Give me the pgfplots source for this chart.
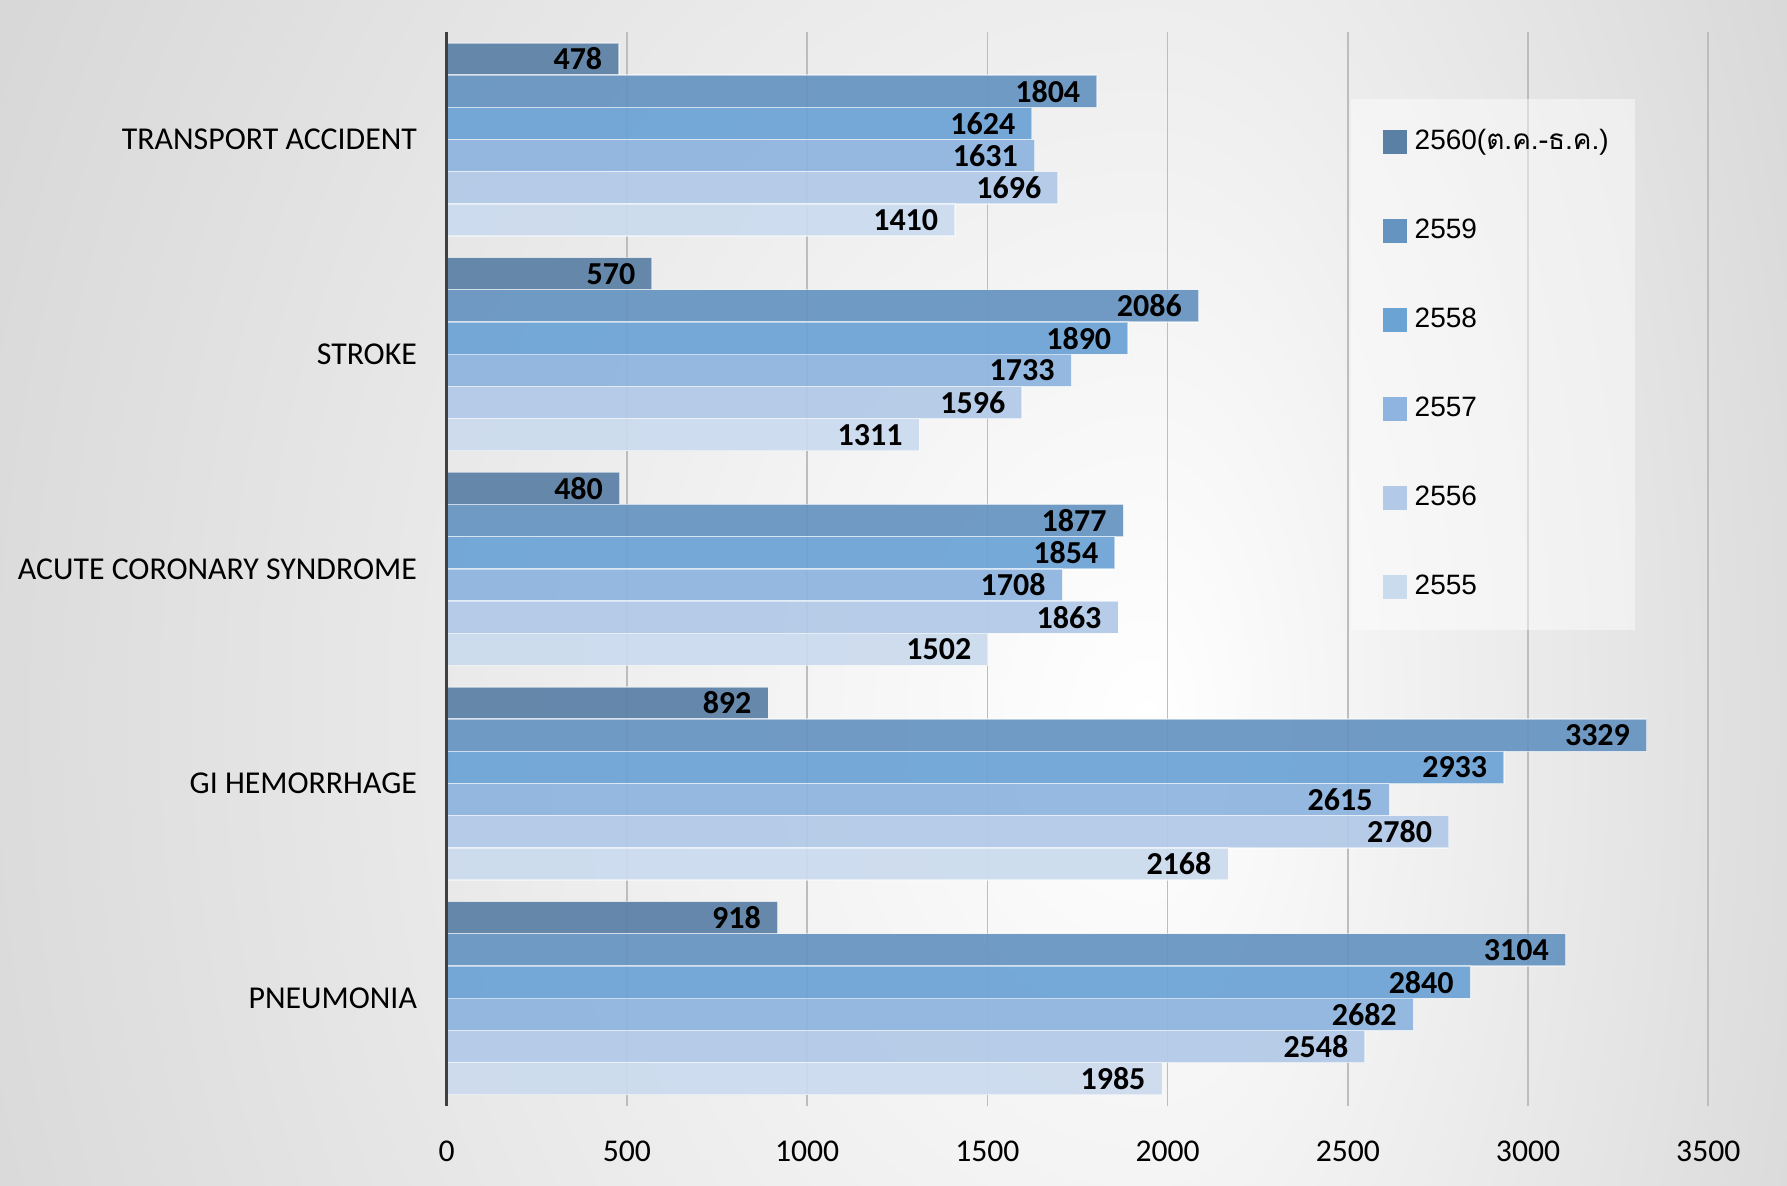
\documentclass[border=0pt]{standalone}
\usepackage{pgfplots}
\pgfplotsset{compat=1.18}
\usepackage{fontspec}
\setmainfont{Carlito}
\newfontfamily\legfont{Liberation Sans}
\newfontfamily\thaifont[Script=Thai]{Loma}
\definecolor{cA}{HTML}{5B80A6}
\definecolor{cB}{HTML}{6694C1}
\definecolor{cC}{HTML}{6CA3D5}
\definecolor{cD}{HTML}{8EB4DF}
\definecolor{cE}{HTML}{B2C9E7}
\definecolor{cF}{HTML}{CBDBEE}
\definecolor{axgray}{HTML}{404040}
\definecolor{gridgray}{HTML}{BDBDBD}
\definecolor{bgout}{gray}{0.745}
\begin{document}
\begin{tikzpicture}
\begin{scope}
\clip (0,0) rectangle (345pt,355.8pt);
\shade[inner color=white, outer color=bgout] (345pt,139.8pt) ellipse (633.8pt and 793.4pt);
\end{scope}
\begin{scope}
\clip (345pt,0) rectangle (536.1pt,355.8pt);
\shade[inner color=white, outer color=bgout] (345pt,139.8pt) ellipse (365.3pt and 793.4pt);
\end{scope}
\begin{axis}[
  at={(134pt,24.15pt)}, anchor=south west,
  scale only axis, width=378.5pt, height=322pt,
  xmin=0, xmax=3500, ymin=-0.5, ymax=4.5,
  y dir=reverse,
  xbar, bar width=0.15,
  axis lines*=left,
  x axis line style={draw=none},
  y axis line style={draw=none},
  xtick={0,500,...,3500},
  ytick={0,1,2,3,4},
  yticklabels={TRANSPORT ACCIDENT, STROKE, ACUTE CORONARY SYNDROME, GI HEMORRHAGE, PNEUMONIA},
  major tick length=0pt,
  tick align=inside,
  xmajorgrids,
  grid style={draw=gridgray, line width=0.5pt},
  /pgf/number format/.cd, fixed, precision=0, 1000 sep={}, assume math mode=true,
  /pgfplots/.cd,
  xticklabel style={font=\fontsize{9.5}{10}\selectfont, yshift=-7pt},
  yticklabel style={font=\fontsize{9.55}{10}\selectfont, xshift=-5.4pt},
  nodes near coords,
  every node near coord/.append style={font=\fontsize{9.6}{10}\selectfont\bfseries, anchor=east, xshift=-1.5pt, text=black, text opacity=1},
  clip=false,
  legend image code/.code={\path[fill=none, draw=none] (0pt,-3.6pt) rectangle (11.2pt,3.6pt);\fill[#1, fill opacity=1, draw=none] (3.6pt,-3.6pt) rectangle (10.8pt,3.6pt);},
  legend cell align=left,
  legend style={at={(0.716,0.9387)}, anchor=north west, draw=none, fill=white, fill opacity=0.45, text opacity=1,
    font=\legfont\fontsize{8.4}{9}\selectfont, inner xsep=6pt, inner ysep=7pt, row sep=14.9pt,
    nodes={text height=6.3pt, text depth=1.5pt, inner sep=2pt}},
]
\addplot[fill=cA, draw=white, draw opacity=0.5, line width=0.4pt, fill opacity=0.93, bar shift=-0.375]
  coordinates {(478,0) (570,1) (480,2) (892,3) (918,4)};
\addplot[fill=cB, draw=white, draw opacity=0.5, line width=0.4pt, fill opacity=0.93, bar shift=-0.225]
  coordinates {(1804,0) (2086,1) (1877,2) (3329,3) (3104,4)};
\addplot[fill=cC, draw=white, draw opacity=0.5, line width=0.4pt, fill opacity=0.93, bar shift=-0.075]
  coordinates {(1624,0) (1890,1) (1854,2) (2933,3) (2840,4)};
\addplot[fill=cD, draw=white, draw opacity=0.5, line width=0.4pt, fill opacity=0.93, bar shift=0.075]
  coordinates {(1631,0) (1733,1) (1708,2) (2615,3) (2682,4)};
\addplot[fill=cE, draw=white, draw opacity=0.5, line width=0.4pt, fill opacity=0.93, bar shift=0.225]
  coordinates {(1696,0) (1596,1) (1863,2) (2780,3) (2548,4)};
\addplot[fill=cF, draw=white, draw opacity=0.5, line width=0.4pt, fill opacity=0.93, bar shift=0.375]
  coordinates {(1410,0) (1311,1) (1502,2) (2168,3) (1985,4)};
\legend{2560({\thaifont ต.ค.-ธ.ค.}), 2559, 2558, 2557, 2556, 2555}
\draw[axgray, line width=0.9pt] (axis cs:0,-0.5) -- (axis cs:0,4.5);
\end{axis}
\pgfresetboundingbox
\useasboundingbox (0,0) rectangle (536.1pt,355.8pt);
\end{tikzpicture}
\end{document}
